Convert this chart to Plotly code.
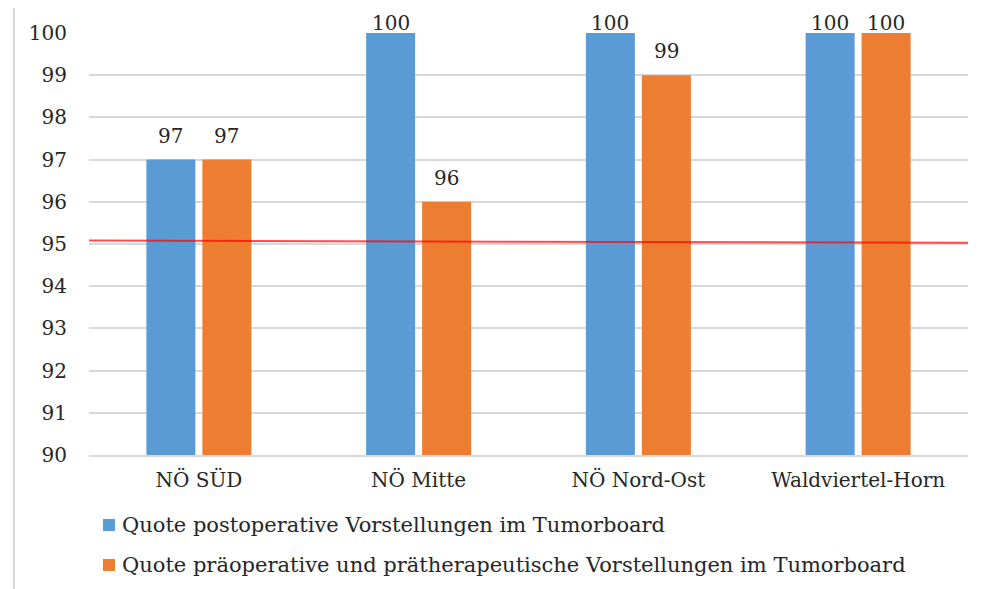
import plotly.graph_objects as go

categories = ["NÖ SÜD", "NÖ Mitte", "NÖ Nord-Ost", "Waldviertel-Horn"]
series_names = [
    "Quote postoperative Vorstellungen im Tumorboard",
    "Quote präoperative und prätherapeutische Vorstellungen im Tumorboard",
]
post_values = [97, 100, 100, 100]
pre_values = [97, 96, 99, 100]
target_line = [95.08, 95.03]  # red reference line, left and right end
y_ticks = list(range(90, 101))
colors = ["#5B9BD5", "#ED7D31"]

FONT = "DejaVu Serif"
TXT = "#262626"
PAGE_OFF = 8                     # default body margin of the html page
W, H = 990 - PAGE_OFF, 589 - PAGE_OFF
# plot area in screen pixels
SL, ST, SR, SB = 89, 33, 968, 455
L, T = SL - PAGE_OFF, ST - PAGE_OFF
R, B = W - (SR - PAGE_OFF), H - (SB - PAGE_OFF)
pw = SR - SL
ph = SB - ST
Y0, Y1 = 90, 100

slot = 56 / (pw / len(categories))
bar_w = 49 / (pw / len(categories))
xs = list(range(len(categories)))

fig = go.Figure()
annotations = []
for k, (name, vals, color) in enumerate(zip(series_names, [post_values, pre_values], colors)):
    off = (k - 0.5) * slot
    bx = [x + off for x in xs]
    fig.add_trace(go.Bar(
        x=bx, y=[v - Y0 for v in vals], base=Y0, name=name, width=bar_w,
        marker=dict(color=color, line=dict(width=0)),
        showlegend=False,
    ))
    for x, v in zip(bx, vals):
        top_px = ST + (Y1 - v) * ph / (Y1 - Y0)
        shift = min(24, top_px - 23)
        annotations.append(dict(
            x=x, y=v, xref="x", yref="y", text=str(v), showarrow=False,
            yshift=shift, font=dict(family=FONT, size=20, color=TXT),
            xanchor="center", yanchor="middle"))

# legend (custom, to match spacing)
leg_y = [525, 565]
for name, color, yp in zip(series_names, colors, leg_y):
    yc = 1 - (yp - ST) / ph
    fig.add_shape(type="rect", xref="paper", yref="paper",
                  x0=(103 - SL) / pw, x1=(115 - SL) / pw,
                  y0=yc - 6 / ph, y1=yc + 6 / ph,
                  fillcolor=color, line=dict(width=0))
    annotations.append(dict(
        x=(120 - SL) / pw, y=yc, xref="paper", yref="paper", text=name,
        showarrow=False, xanchor="left", yanchor="middle",
        font=dict(family=FONT, size=21, color=TXT)))

fig.add_shape(type="line", xref="paper", yref="y", x0=0, x1=1,
              y0=target_line[0], y1=target_line[1],
              line=dict(color="rgba(255,0,0,0.7)", width=2))
# outer frame
fig.add_shape(type="rect", xref="paper", yref="paper",
              x0=(14 - SL) / pw, x1=(1010 - SL) / pw,
              y0=-(610 - SB) / ph, y1=1 + (ST - 7) / ph,
              line=dict(color="#D9D9D9", width=2), layer="below")

fig.update_layout(
    width=W, height=H,
    margin=dict(l=L, r=R, t=T, b=B, autoexpand=False),
    paper_bgcolor="white", plot_bgcolor="white",
    barmode="overlay",
    font=dict(family=FONT, size=20, color=TXT),
    annotations=annotations,
    showlegend=False,
    xaxis=dict(range=[-0.5, len(categories) - 0.5], tickvals=xs, ticktext=categories,
               showgrid=False, showline=True, linecolor="#D9D9D9", linewidth=2,
               ticks="outside", ticklen=6, tickcolor="rgba(0,0,0,0)",
               zeroline=False, automargin=False,
               tickfont=dict(family=FONT, size=20, color=TXT)),
    yaxis=dict(range=[Y0, Y1], tickvals=y_ticks, showgrid=True,
               gridcolor="#D9D9D9", gridwidth=2, zeroline=False, showline=False,
               ticks="outside", ticklen=17, tickcolor="rgba(0,0,0,0)",
               automargin=False,
               tickfont=dict(family=FONT, size=20, color=TXT)),
)
fig.write_html("out.html")
